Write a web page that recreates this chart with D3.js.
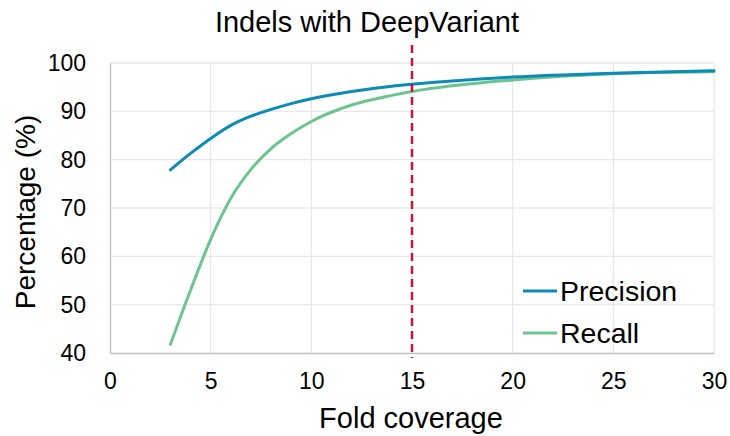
<!DOCTYPE html>
<html><head><meta charset="utf-8">
<script src="https://cdn.jsdelivr.net/npm/d3@7"></script>
<style>body{margin:0;background:#fff}svg{display:block}text{font-family:"Liberation Sans",Arial,sans-serif;fill:#000}</style>
</head><body>
<script>
const coverage = [3,4,5,6,7,8,9,10,12,14,15,20,25,30];
const precision = [77.9,81.3,84.4,87.1,89.0,90.4,91.6,92.6,94.1,95.2,95.6,97.1,97.9,98.4];
const recall = [41.8,53.0,63.5,72.0,78.0,82.3,85.4,87.9,91.3,93.3,94.1,96.5,97.8,98.2];
const seriesNames = ["Precision","Recall"];
const xTicks = [0,5,10,15,20,25,30];
const yTicks = [40,50,60,70,80,90,100];
const cutoff = 15;

const W=730,H=436;
const svg=d3.select("body").append("svg").attr("width",W).attr("height",H);
const x=d3.scaleLinear().domain([0,30]).range([110,714]);
const y=d3.scaleLinear().domain([40,100]).range([353,63]);

// grid
svg.append("g").selectAll("line").data(yTicks.slice(1)).join("line")
 .attr("x1",x(0)).attr("x2",x(30)).attr("y1",d=>y(d)).attr("y2",d=>y(d))
 .attr("stroke","#e8e8e8").attr("stroke-width",1.3);
svg.append("g").selectAll("line").data(xTicks.slice(1)).join("line")
 .attr("y1",y(40)).attr("y2",y(100)).attr("x1",d=>x(d)).attr("x2",d=>x(d))
 .attr("stroke","#e8e8e8").attr("stroke-width",1.3);

// axes
const xa=svg.append("g").attr("transform",`translate(0,${y(40)})`)
 .call(d3.axisBottom(x).tickValues(xTicks).tickSize(0).tickPadding(20));
const ya=svg.append("g").attr("transform",`translate(${x(0)},0)`)
 .call(d3.axisLeft(y).tickValues(yTicks).tickSize(0).tickPadding(24));
[xa,ya].forEach(a=>{a.select(".domain").attr("stroke","#bfbfbf").attr("stroke-width",1.3);
 a.selectAll("text").style("font-size","23px").attr("font-family",null);});

const colors={Precision:"#0b8bb8",Recall:"#6cc48e"};
const line=d3.line().x((d,i)=>x(coverage[i])).y(d=>y(d)).curve(d3.curveMonotoneX);
[[ "Recall",recall],["Precision",precision]].forEach(([n,v])=>{
 svg.append("path").datum(v).attr("d",line).attr("fill","none")
  .attr("stroke",colors[n]).attr("stroke-width",3).attr("stroke-linecap","round");
});

// cutoff line
svg.append("line").attr("x1",x(cutoff)).attr("x2",x(cutoff)).attr("y1",45).attr("y2",358)
 .attr("stroke","#c8143c").attr("stroke-width",2.5).attr("stroke-dasharray","8,5");

// legend
seriesNames.forEach((n,i)=>{
 const ly=291+i*42;
 svg.append("line").attr("x1",523).attr("x2",557).attr("y1",ly).attr("y2",ly)
  .attr("stroke",colors[n]).attr("stroke-width",3);
 svg.append("text").attr("x",560).attr("y",ly+10).style("font-size","28.5px").text(n);
});

svg.append("text").attr("x",367).attr("y",32).attr("text-anchor","middle").style("font-size","29px").text("Indels with DeepVariant");
svg.append("text").attr("x",411).attr("y",428).attr("text-anchor","middle").style("font-size","29px").text("Fold coverage");
svg.append("text").attr("transform","translate(35,212) rotate(-90)").attr("text-anchor","middle").style("font-size","28px").text("Percentage (%)");
</script>
</body></html>
